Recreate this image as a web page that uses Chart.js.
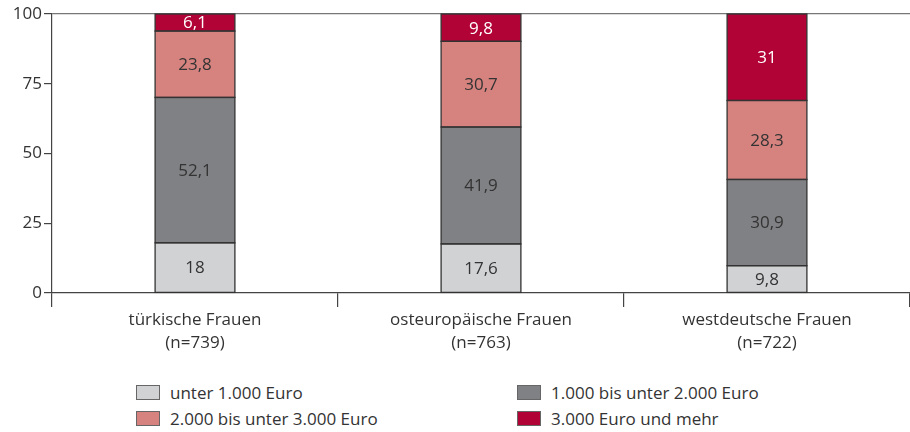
<!DOCTYPE html>
<html lang="de">
<head>
  <meta charset="UTF-8" />
  <title>Haushaltsnettoeinkommen nach Herkunft</title>
  <script src="https://cdn.jsdelivr.net/npm/chart.js"></script>
  <style>
    html, body {
      margin: 0;
      padding: 0;
      background: #fff;
      width: 910px;
      height: 432px;
      overflow: hidden;
      font-family: 'Open Sans', sans-serif;
      color: #333;
    }
    .chart-box {
      position: absolute;
      left: 0;
      top: 0;
      width: 910px;
      height: 372px;
    }
    #legend {
      position: absolute;
      left: 136px;
      top: 383px;
      display: grid;
      grid-template-columns: 381px 300px;
      row-gap: 8px;
      font-size: 17px;
    }
    #legend .item {
      display: flex;
      align-items: center;
      height: 18px;
    }
    #legend .box {
      width: 22px;
      height: 13px;
      border: 1px solid #666;
      margin-right: 10px;
    }
  </style>
</head>
<body>
  <div class="chart-box">
    <canvas id="chart"></canvas>
  </div>
  <div id="legend"></div>

  <script>
    // Kategorien und Werte (Prozent)
    const gruppen = [
      ['türkische Frauen', '(n=739)'],
      ['osteuropäische Frauen', '(n=763)'],
      ['westdeutsche Frauen', '(n=722)']
    ];
    const unter1000 = [18, 17.6, 9.8];
    const bis2000 = [52.1, 41.9, 30.9];
    const bis3000 = [23.8, 30.7, 28.3];
    const ab3000 = [6.1, 9.8, 31];
    const reihenNamen = [
      'unter 1.000 Euro',
      '1.000 bis unter 2.000 Euro',
      '2.000 bis unter 3.000 Euro',
      '3.000 Euro und mehr'
    ];
    const yTicks = [0, 25, 50, 75, 100];

    const farben = ['#d1d2d4', '#808184', '#d6837f', '#b20337'];
    const textFarben = ['#333', '#333', '#333', '#fff'];
    const fontFam = "'Open Sans', sans-serif";

    const reihen = [unter1000, bis2000, bis3000, ab3000];

    const datasets = reihen.map((werte, i) => ({
      label: reihenNamen[i],
      data: werte,
      backgroundColor: farben[i],
      borderWidth: 0,
      barPercentage: 0.279,
      categoryPercentage: 1.0
    }));

    // Rahmen um die Segmente und Werte hineinschreiben
    const wertLabels = {
      id: 'wertLabels',
      afterDatasetsDraw(chart) {
        const ctx = chart.ctx;
        ctx.save();
        ctx.strokeStyle = '#333';
        ctx.lineWidth = 1.3;
        chart.data.datasets.forEach((ds, i) => {
          chart.getDatasetMeta(i).data.forEach(bar => {
            const top = Math.min(bar.y, bar.base);
            const h = Math.abs(bar.base - bar.y);
            ctx.strokeRect(bar.x - bar.width / 2, top, bar.width, h);
          });
        });
        ctx.font = '17px ' + fontFam;
        ctx.textAlign = 'center';
        ctx.textBaseline = 'middle';
        chart.data.datasets.forEach((ds, i) => {
          const meta = chart.getDatasetMeta(i);
          meta.data.forEach((bar, j) => {
            const v = ds.data[j];
            const y = (bar.y + bar.base) / 2;
            ctx.fillStyle = textFarben[i];
            ctx.fillText(String(v).replace('.', ','), bar.x, y + 1);
          });
        });
        ctx.restore();
      }
    };

    const chart = new Chart(document.getElementById('chart'), {
      type: 'bar',
      data: { labels: gruppen, datasets: datasets },
      plugins: [wertLabels],
      options: {
        responsive: true,
        maintainAspectRatio: false,
        animation: false,
        layout: { padding: { top: 14, right: 0, left: 0, bottom: 0 } },
        plugins: {
          legend: { display: false },
          tooltip: { enabled: false }
        },
        scales: {
          x: {
            stacked: true,
            grid: {
              display: true,
              offset: true,
              drawOnChartArea: false,
              drawTicks: true,
              tickLength: 14,
              color: '#444',
              lineWidth: 1.2
            },
            border: { display: true, color: '#444', width: 1.2 },
            ticks: {
              color: '#333',
              font: { family: fontFam, size: 17, lineHeight: 1.35 },
              padding: 2,
              maxRotation: 0
            },
            afterFit(scale) { scale.height = 79; }
          },
          y: {
            stacked: true,
            min: 0,
            max: 100,
            afterBuildTicks(scale) {
              scale.ticks = yTicks.map(v => ({ value: v }));
            },
            grid: {
              drawOnChartArea: true,
              drawTicks: true,
              tickLength: 8,
              color: c => c.tick && c.tick.value === 100 ? '#777' : 'rgba(0,0,0,0)',
              tickColor: '#444',
              lineWidth: 1.2
            },
            border: { display: true, color: '#444', width: 1.2 },
            ticks: {
              color: '#333',
              font: { family: fontFam, size: 17 },
              padding: 2
            },
            afterFit(scale) { scale.width = 52; }
          }
        }
      }
    });

    // Legende in zwei Spalten
    const legend = document.getElementById('legend');
    chart.data.datasets.forEach(ds => {
      const item = document.createElement('div');
      item.className = 'item';
      const box = document.createElement('span');
      box.className = 'box';
      box.style.background = ds.backgroundColor;
      const txt = document.createElement('span');
      txt.textContent = ds.label;
      item.appendChild(box);
      item.appendChild(txt);
      legend.appendChild(item);
    });
  </script>
</body>
</html>
